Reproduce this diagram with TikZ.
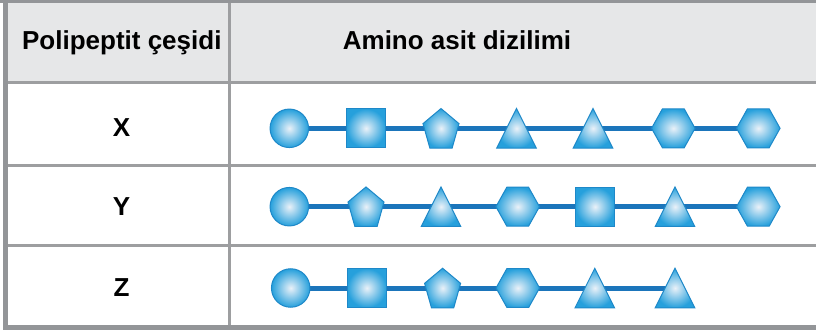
\documentclass[tikz,border=0pt]{standalone}
\usepackage{fontspec}
\setmainfont{Liberation Sans}
\usetikzlibrary{shapes.geometric,backgrounds}
\definecolor{cizgi}{RGB}{157,158,160}
\definecolor{cerceve}{RGB}{147,149,152}
\definecolor{baslikzemin}{RGB}{230,231,232}
\definecolor{bag}{RGB}{27,117,187}
\definecolor{kenar}{RGB}{30,136,200}
\definecolor{icrenk}{RGB}{234,241,248}
\definecolor{disrenk}{RGB}{38,160,220}
\tikzset{
  amino/.style={draw=kenar, line width=1pt, inner sep=0pt, inner color=icrenk, outer color=disrenk},
  daire/.style={amino, circle, minimum size=38.5pt},
  kare/.style={amino, rectangle, minimum size=39pt},
  besgen/.style={amino, regular polygon, regular polygon sides=5, minimum size=43.7pt, xscale=.867, yshift=-2.1pt, transform shape},
  ucgen/.style={amino, regular polygon, regular polygon sides=3, minimum size=52.7pt, xscale=.866, yshift=-6.6pt, transform shape},
  altigen/.style={amino, regular polygon, regular polygon sides=6, minimum size=45pt, xscale=.967, transform shape},
  peptid/.style={draw=bag, line width=5pt},
  etiket/.style={font=\bfseries\fontsize{26}{31}\selectfont, inner sep=0pt, anchor=base},
}
\begin{document}
\begin{tikzpicture}[x=1pt,y=-1pt]
\useasboundingbox (0,0) rectangle (816,331);
%% table
\fill[baslikzemin] (5.5,1.5) rectangle (816,82.5);
\draw[cizgi, line width=3pt] (5.5,82.5) -- (816,82.5);
\draw[cizgi, line width=3pt] (5.5,165.5) -- (816,165.5);
\draw[cizgi, line width=3pt] (5.5,245.5) -- (816,245.5);
\draw[cizgi, line width=3pt] (229.5,0) -- (229.5,327);
\draw[cerceve, line width=3pt] (0,1.5) -- (816,1.5);
\draw[cerceve, line width=5pt] (5.5,0) -- (5.5,327) -- (816,327);
%% labels
\node[etiket] (cesit) at (121.8,50) {Polipeptit çeşidi};
\node[etiket] (dizilim) at (457,50) {Amino asit dizilimi};
\node[etiket] (px) at (121.5,137) {X};
\node[etiket] (py) at (121.5,215.5) {Y};
\node[etiket] (pz) at (121.5,296) {Z};
%% X
\node[daire] (x1) at (289.3,128.3) {};
\node[kare] (x2) at (366,128.3) {};
\node[besgen] (x3) at (441,128.3) {};
\node[ucgen] (x4) at (516.5,128.3) {};
\node[ucgen] (x5) at (593,128.3) {};
\node[altigen] (x6) at (673.3,128.3) {};
\node[altigen] (x7) at (758.3,128.3) {};
%% Y
\node[daire] (y1) at (289.3,206.7) {};
\node[besgen] (y2) at (366,206.7) {};
\node[ucgen] (y3) at (441,206.7) {};
\node[altigen] (y4) at (517.7,206.7) {};
\node[kare] (y5) at (595,206.7) {};
\node[ucgen] (y6) at (675,206.7) {};
\node[altigen] (y7) at (758.3,206.7) {};
%% Z
\node[daire] (z1) at (290.7,288) {};
\node[kare] (z2) at (366.8,288) {};
\node[besgen] (z3) at (442.6,288) {};
\node[altigen] (z4) at (517.8,288) {};
\node[ucgen] (z5) at (594.8,288) {};
\node[ucgen] (z6) at (675,288) {};
%% bonds
\begin{pgfonlayer}{background}
  \draw[peptid] (x1.center) -- (x7.center);
  \draw[peptid] (y1.center) -- (y7.center);
  \draw[peptid] (z1.center) -- (z1.center -| z6.center);
\end{pgfonlayer}
\end{tikzpicture}
\end{document}
